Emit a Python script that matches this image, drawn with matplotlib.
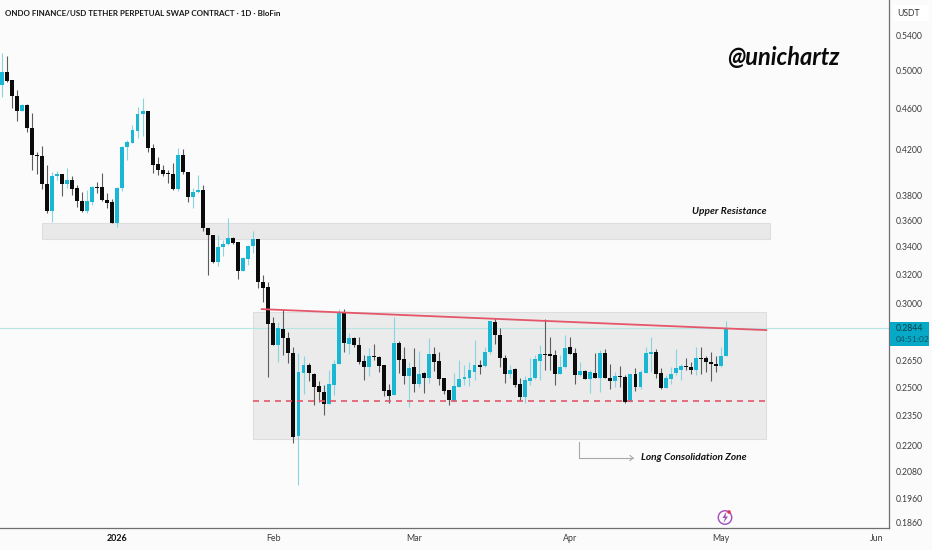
import matplotlib
matplotlib.use("Agg")
import matplotlib.pyplot as plt
import matplotlib.dates as mdates
from matplotlib.patches import Ellipse, Polygon, Rectangle
import pandas as pd

W, H = 932, 550
BG = "#fbfbfb"
UP = "#19b7d3"
DOWN = "#0b0b0b"
UP_WICK = "#86d6e2"
DOWN_WICK = "#5c5c5c"
TXT = "#3c3c3c"

start_date = "2025-12-09"

highs_a = [.5187,.5158,.4893,.4788,.4641,.4641,.4550,.4184,.4237,.4063,.4006,.4014,.3985,.4035,.3968,.3890,.3834,.3848,.3882,.3919,.3991,.3820,.3771,.3870,.4237,.4293,.4436,.4617,.4702,.4573,.4252,.4133,.4063,.4020,.4078,.4215,.4206,.4006,.3862,.3976,.3887,.3544,.3488,.3488,.3450,.3617,.3475,.3435,.3320,.3408,.3521,.3460]
tops_a = [.4984,.4984,.4893,.4729,.4630,.4630,.4410,.4157,.4145,.3902,.3971,.3985,.3985,.3933,.3933,.3865,.3755,.3755,.3876,.3876,.3876,.3768,.3744,.3868,.4231,.4274,.4387,.4546,.4570,.4570,.4221,.4072,.4020,.3991,.3988,.4151,.4157,.4006,.3831,.3845,.3848,.3542,.3488,.3395,.3420,.3462,.3462,.3432,.3315,.3405,.3460,.3460]
bots_a = [.4840,.4886,.4729,.4577,.4577,.4403,.4154,.4145,.3896,.3673,.3671,.3971,.3899,.3896,.3856,.3752,.3671,.3671,.3749,.3868,.3765,.3738,.3581,.3578,.3865,.4228,.4268,.4381,.4543,.4215,.4063,.4017,.3982,.3985,.3856,.3856,.4006,.3792,.3790,.3829,.3539,.3486,.3290,.3290,.3393,.3420,.3427,.3222,.3222,.3312,.3405,.3143]
lows_a = [.4718,.4875,.4600,.4478,.4570,.4371,.4020,.3985,.3854,.3657,.3591,.3933,.3798,.3862,.3806,.3711,.3668,.3657,.3725,.3826,.3760,.3697,.3581,.3552,.3842,.4109,.4268,.4308,.4334,.4184,.3997,.3976,.3968,.3911,.3848,.3842,.3982,.3744,.3697,.3826,.3521,.3196,.3281,.3255,.3327,.3413,.3420,.3168,.3220,.3262,.3351,.3104]

highs_b = [.3198,.3147,.2916,.2884,.2963,.2821,.2727,.2691,.2675,.2633,.2580,.2536,.2511,.2595,.2653,.2963,.2969,.2816,.2791,.2787,.2681,.2721,.2747,.2675,.2624,.2517,.2912,.2767,.2731,.2643,.2721,.2705,.2585,.2781,.2727,.2701,.2553,.2484]
tops_b = [.3147,.3113,.2874,.2843,.2838,.2785,.2695,.2582,.2624,.2624,.2574,.2506,.2471,.2515,.2629,.2944,.2944,.2781,.2781,.2741,.2645,.2675,.2675,.2671,.2622,.2482,.2755,.2755,.2657,.2608,.2610,.2574,.2578,.2687,.2689,.2645,.2548,.2482]
bots_b = [.3106,.2868,.2741,.2741,.2781,.2695,.2240,.2246,.2580,.2576,.2498,.2471,.2409,.2409,.2511,.2629,.2751,.2747,.2741,.2643,.2612,.2612,.2669,.2620,.2478,.2454,.2457,.2651,.2562,.2562,.2515,.2515,.2550,.2548,.2643,.2544,.2478,.2428]
lows_b = [.3013,.2557,.2741,.2643,.2681,.2637,.2214,.2018,.2463,.2532,.2403,.2421,.2351,.2409,.2457,.2629,.2701,.2687,.2731,.2629,.2540,.2561,.2653,.2585,.2451,.2415,.2457,.2576,.2517,.2391,.2471,.2502,.2469,.2520,.2591,.2511,.2465,.2403]

highs_c = [.2576,.2652,.2623,.2642,.2770,.2652,.2730,.2892,.2905,.2846,.2681,.2623,.2604,.2553,.2561,.2662,.2681,.2740,.2904,.2790,.2711,.2681,.2800,.2790,.2726,.2642,.2595,.2595,.2695,.2711,.2715,.2628,.2585,.2619,.2566,.2572,.2604,.2595,.2730,.2790,.2715,.2608,.2566,.2613,.2715,.2632,.2667,.2642,.2730,.2730,.2675,.2699,.2677,.2730,.2888]
tops_c = [.2506,.2546,.2557,.2593,.2623,.2623,.2699,.2888,.2884,.2802,.2667,.2595,.2599,.2519,.2538,.2553,.2656,.2685,.2690,.2686,.2681,.2615,.2722,.2728,.2695,.2587,.2591,.2582,.2580,.2693,.2693,.2553,.2561,.2563,.2557,.2572,.2572,.2582,.2692,.2701,.2701,.2578,.2551,.2572,.2606,.2617,.2617,.2611,.2667,.2667,.2662,.2642,.2632,.2675,.2844]
bots_c = [.2427,.2502,.2546,.2548,.2585,.2615,.2617,.2697,.2800,.2665,.2572,.2572,.2510,.2449,.2446,.2533,.2548,.2648,.2681,.2677,.2570,.2570,.2613,.2690,.2566,.2568,.2544,.2546,.2553,.2553,.2551,.2536,.2533,.2557,.2420,.2420,.2502,.2502,.2580,.2688,.2574,.2495,.2495,.2546,.2576,.2598,.2611,.2598,.2598,.2660,.2640,.2630,.2619,.2619,.2675]
lows_c = [.2422,.2499,.2510,.2506,.2537,.2570,.2613,.2690,.2750,.2613,.2523,.2548,.2502,.2427,.2413,.2510,.2546,.2541,.2595,.2595,.2510,.2570,.2609,.2690,.2519,.2561,.2542,.2470,.2548,.2475,.2548,.2490,.2502,.2502,.2413,.2420,.2481,.2488,.2576,.2585,.2553,.2491,.2495,.2519,.2566,.2541,.2595,.2572,.2566,.2570,.2584,.2533,.2582,.2613,.2675]

highs = highs_a + highs_b + highs_c
tops = tops_a + tops_b + tops_c
bots = bots_a + bots_b + bots_c
lows = lows_a + lows_b + lows_c

# candle colours
up_a = [0,4,10,11,13,17,18,23,24,25,26,27,28,35,38,39,43,44,45,48,49,50]
up_b = [55,59,60,65,66,67,69,73,78,81,83,85]
up_c = [90,91,92,93,94,96,97,101,104,105,106,107,111,112,115,117,119,122,125,127,128,129,132,133,134,135,138,143,144]
up_idx = set(up_a + up_b + up_c)

n = len(highs)
dates = pd.date_range(start_date, periods=n)
xs = mdates.date2num(dates)
is_up = [i in up_idx for i in range(n)]

price_last = 0.2844
upper_zone = (0.3455, 0.3579)
range_zone = (0.2231, 0.2945)
support_level = 0.2424
trend_prices = (0.2965, 0.2832)
y_ticks = [0.54, 0.50, 0.46, 0.42, 0.38, 0.36, 0.34, 0.32, 0.30, 0.265, 0.25, 0.235, 0.22, 0.208, 0.196, 0.186]
month_ticks = ["2026-01-01", "2026-02-01", "2026-03-01", "2026-04-01", "2026-05-01", "2026-06-01"]
month_labels = ["2026", "Feb", "Mar", "Apr", "May", "Jun"]

plt.rcParams["font.family"] = ["Lato", "DejaVu Sans"]
fig = plt.figure(figsize=(W / 100, H / 100), dpi=100, facecolor=BG)
AX_R, AX_B = 889, 528
ax = fig.add_axes([0, 1 - AX_B / H, AX_R / W, AX_B / H], facecolor=BG)
ax.set_yscale("log")
ax.set_ylim(0.1837, 0.583)
x0 = xs[0]
ax.set_xlim(x0 - 0.34, x0 + 176.4)


def day(i):
    return x0 + i


# zones
ax.add_patch(Rectangle((day(8), upper_zone[0]), 144.7, upper_zone[1] - upper_zone[0],
                       fc="#e9e9e9", ec="#dedede", lw=0.8, zorder=1))
ax.add_patch(Rectangle((day(50), range_zone[0]), 102, range_zone[1] - range_zone[0],
                       fc="#ebebeb", ec="#dedede", lw=0.8, zorder=1))
ax.axhline(price_last, color="#b5e6e6", lw=0.8, zorder=1.5)

# candles
for i in range(n):
    wick = UP_WICK if is_up[i] else DOWN_WICK
    body = UP if is_up[i] else DOWN
    ax.vlines(xs[i], lows[i], highs[i], color=wick, lw=0.8, zorder=2)
    ax.bar(xs[i], tops[i] - bots[i], bottom=bots[i], width=0.78, color=body, lw=0, zorder=3)

# drawings
ax.plot([day(51.7), day(152)], trend_prices, color="#e4576a", lw=1.3, zorder=4)
ax.plot([day(50), day(152)], [support_level] * 2, color="#e4576a", lw=1.2,
        dashes=(3.6, 3.0), zorder=4)

# axes
for s in ("top", "left"):
    ax.spines[s].set_visible(False)
for s in ("right", "bottom"):
    ax.spines[s].set_color("#6e6e6e")
    ax.spines[s].set_linewidth(0.9)
ax.yaxis.tick_right()
ax.set_yticks(y_ticks)
ax.set_yticklabels([f"{v:.4f}" for v in y_ticks])
ax.minorticks_off()
ax.tick_params(axis="y", length=0, pad=5, labelsize=6.2, colors=TXT)
ax.set_xticks(mdates.date2num(pd.to_datetime(month_ticks)))
ax.set_xticklabels(month_labels)
ax.tick_params(axis="x", length=0, pad=4, labelsize=6.4, colors=TXT)
ax.get_xticklabels()[0].set_fontweight("bold")
ax.get_xticklabels()[0].set_color("#111111")


def fx(x):
    return x / W


def fy(y):
    return 1 - y / H


# title and notes
fig.text(fx(5), fy(13), "ONDO FINANCE/USD TETHER PERPETUAL SWAP CONTRACT · 1D · BloFin",
         fontsize=5.8, fontweight="bold", color="#1a1a1a", va="center")
fig.text(fx(783), fy(57), "@unichartz", fontsize=17, fontweight="bold", style="italic",
         color="#0a0a0a", ha="center", va="center")
fig.text(fx(729), fy(212), "Upper Resistance", fontsize=7.3, fontweight="bold", style="italic",
         color="#111111", ha="center", va="center")
fig.text(fx(694), fy(457), "Long Consolidation Zone", fontsize=7.3, fontweight="bold", style="italic",
         color="#111111", ha="center", va="center")

# arrow
fig.add_artist(plt.Line2D([fx(579), fx(579), fx(633)], [fy(442), fy(458), fy(458)], color="#a8a8a8", lw=0.8))
fig.add_artist(plt.Line2D([fx(630), fx(633), fx(630)], [fy(455.5), fy(458), fy(460.5)], color="#a8a8a8", lw=0.8))

# price labels
fig.add_artist(Rectangle((fx(890), fy(346)), 39 / W, 24 / H, transform=fig.transFigure,
                         fc="#06a9c6", ec="none"))
fig.text(fx(896), fy(328.5), "0.2844", fontsize=6.3, color="#0c3f4a", va="center")
fig.text(fx(896), fy(340), "04:51:02", fontsize=6.1, color="#0c5565", va="center")
fig.add_artist(Rectangle((fx(893), fy(21)), 36 / W, 16 / H, transform=fig.transFigure,
                         fc="#ffffff", ec="none"))
fig.text(fx(897), fy(13), "USDT", fontsize=6.2, color="#333333", va="center")

# flash icon
fig.add_artist(Ellipse((fx(725), fy(517.5)), 13.5 / W, 13.5 / H, transform=fig.transFigure,
                       fc="none", ec="#a04ec0", lw=1.0))
fig.add_artist(Polygon([(fx(726.5), fy(511.5)), (fx(722.5), fy(518)), (fx(725), fy(518)),
                        (fx(723.5), fy(523)), (fx(728), fy(516.5)), (fx(725.5), fy(516.5))],
                       closed=True, transform=fig.transFigure, fc="#a04ec0", ec="none"))
fig.add_artist(Ellipse((fx(729), fy(512)), 3.6 / W, 3.6 / H, transform=fig.transFigure,
                       fc="#e8304a", ec="none"))

fig.savefig("out.png", dpi=100, facecolor=BG)
